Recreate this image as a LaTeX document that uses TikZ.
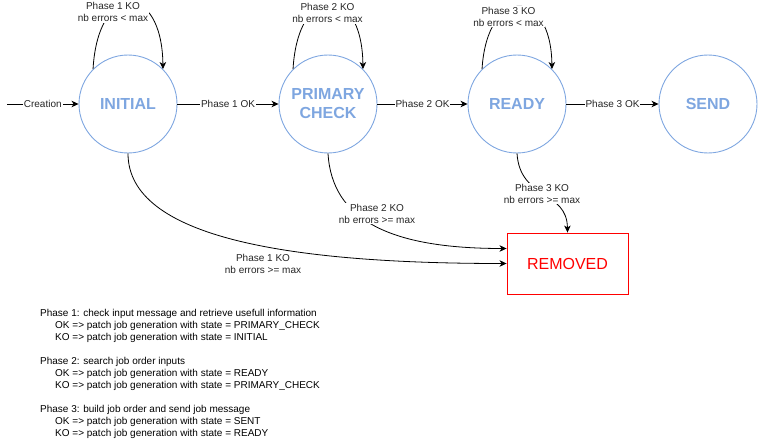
\documentclass[tikz,border=0pt]{standalone}
\usepackage{fontspec}
\setmainfont{Liberation Sans}
\usetikzlibrary{arrows.meta}
\definecolor{stateblue}{HTML}{7EA6E0}
\definecolor{remred}{HTML}{FF0000}
\tikzset{
  state/.style={circle, draw=stateblue, line width=0.9pt, minimum size=98pt, inner sep=0pt,
    text=stateblue, font=\fontsize{16}{19}\selectfont\bfseries, align=center},
  removedbox/.style={rectangle, draw=remred, line width=0.9pt, minimum width=121pt, minimum height=61pt,
    text=remred, font=\fontsize{16}{19}\selectfont},
  arr/.style={draw=black, line width=0.8pt, -{Stealth[length=7pt,width=6.5pt,inset=2pt]}},
  lbl/.style={fill=white, inner sep=1pt, font=\fontsize{10}{12}\selectfont, align=center, text=black!85},
  notes/.style={inner sep=0pt, font=\fontsize{10}{12}\selectfont, align=left, anchor=north west}
}
\begin{document}
\begin{tikzpicture}[x=1pt,y=-1pt]
\useasboundingbox (0,0) rectangle (758,444);
% states
\node[state] (init) at (128,104) {INITIAL};
\node[state] (pc) at (328,104) {PRIMARY\\CHECK};
\node[state] (ready) at (517,104) {READY};
\node[state] (send) at (708,104) {SEND};
\node[removedbox] (rem) at (567.5,263.5) {REMOVED};
\coordinate (start) at (7,104);
% horizontal transitions
\draw[arr] (start) -- node[lbl] (lcre) {Creation} (init);
\draw[arr] (init) -- node[lbl] (l1ok) {Phase 1 OK} (pc);
\draw[arr] (pc) -- node[lbl] (l2ok) {Phase 2 OK} (ready);
\draw[arr] (ready) -- node[lbl] (l3ok) {Phase 3 OK} (send);
% self loops
\draw[arr] (init.135) .. controls +(5,-88) and +(-1,-88) .. (init.45);
\node[lbl] (l1ko) at (113,12) {Phase 1 KO\\nb errors < max};
\draw[arr] (pc.135) .. controls +(5,-87) and +(-1,-87) .. (pc.45);
\node[lbl] (l2ko) at (327.5,13) {Phase 2 KO\\nb errors < max};
\draw[arr] (ready.135) .. controls +(5,-83) and +(-1,-83) .. (ready.45);
\node[lbl] (l3ko) at (508.5,16.5) {Phase 3 KO\\nb errors < max};
% transitions to REMOVED
\draw[arr] (init.south) .. controls (128,238) and (290,263.5) .. (rem.west);
\node[lbl] (l1rem) at (263,264) {Phase 1 KO\\nb errors >= max};
\draw[arr] (pc.south) .. controls (332,220) and (390,248.5) .. ([yshift=15pt]rem.west);
\node[lbl] (l2rem) at (377,213.5) {Phase 2 KO\\nb errors >= max};
\draw[arr] (ready.south) .. controls (520,200) and (567,190) .. (rem.north);
\node[lbl] (l3rem) at (542,193.5) {Phase 3 KO\\nb errors >= max};
% notes
\node[notes] (notes) at (40,309.2) {Phase 1: check input message and retrieve usefull information\\
\hspace*{15pt}OK => patch job generation with state = PRIMARY\_CHECK\\
\hspace*{15pt}KO => patch job generation with state = INITIAL\\[12pt]
Phase 2: search job order inputs\\
\hspace*{15pt}OK => patch job generation with state = READY\\
\hspace*{15pt}KO => patch job generation with state = PRIMARY\_CHECK\\[12pt]
Phase 3: build job order and send job message\\
\hspace*{15pt}OK => patch job generation with state = SENT\\
\hspace*{15pt}KO => patch job generation with state = READY};
\end{tikzpicture}
\end{document}
